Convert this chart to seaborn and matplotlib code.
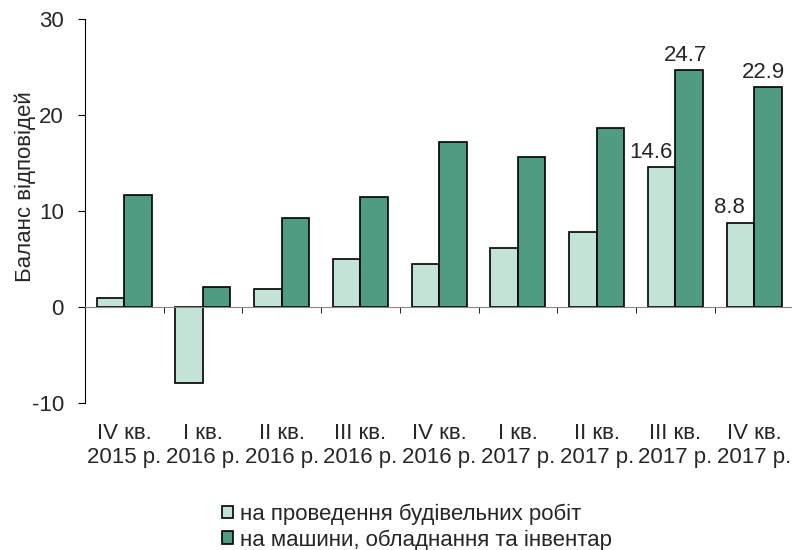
import pandas as pd
import matplotlib.pyplot as plt
import seaborn as sns

# Data
quarters = ["IV кв.\n2015 р.", "I кв.\n2016 р.", "II кв.\n2016 р.", "III кв.\n2016 р.",
            "IV кв.\n2016 р.", "I кв.\n2017 р.", "II кв.\n2017 р.", "III кв.\n2017 р.",
            "IV кв.\n2017 р."]
construction = [1.0, -7.9, 1.9, 5.0, 4.5, 6.2, 7.8, 14.6, 8.8]
machinery = [11.7, 2.1, 9.3, 11.5, 17.2, 15.6, 18.6, 24.7, 22.9]
series_names = ["на проведення будівельних робіт", "на машини, обладнання та інвентар"]
colors = ["#c2e3d6", "#4f9c82"]
annotated = [7, 8]  # quarters that carry value labels

df = pd.DataFrame({
    "quarter": quarters * 2,
    "series": [series_names[0]] * len(quarters) + [series_names[1]] * len(quarters),
    "value": construction + machinery,
})

sns.set_style("ticks")
plt.rcParams["font.family"] = ["Liberation Sans", "DejaVu Sans"]
plt.rcParams["font.size"] = 16
plt.rcParams["axes.unicode_minus"] = False

fig = plt.figure(figsize=(7.92, 5.5), dpi=100)
ax = fig.add_axes([0.107, 0.267, 0.895, 0.6985])

sns.barplot(data=df, x="quarter", y="value", hue="series", palette=colors,
            saturation=1, width=0.7, edgecolor="black", linewidth=1.2, ax=ax)

# value labels on the last two quarters (sit slightly left of bar centre)
for cont, vals, dx in zip(ax.containers, [construction, machinery], [-8, -3]):
    for i, (patch, v) in enumerate(zip(cont.patches, vals)):
        if i in annotated:
            ax.annotate(f"{v:.1f}", (patch.get_x() + patch.get_width() / 2, patch.get_height()),
                        xytext=(dx, 3), textcoords="offset points",
                        ha="center", va="bottom", fontsize=16)

ax.set_xlim(-0.5, 8.5)
ax.set_ylim(-10, 30)
ax.set_yticks([-10, 0, 10, 20, 30])
ax.set_xticks(range(len(quarters)))
ax.set_xticklabels(quarters, linespacing=1.0)
ax.set_xticks([i + 0.5 for i in range(len(quarters) - 1)], minor=True)

ax.spines["top"].set_visible(False)
ax.spines["right"].set_visible(False)
ax.spines["bottom"].set_position(("data", 0))
ax.spines["bottom"].set_color("#888888")
ax.spines["left"].set_color("black")

ax.tick_params(axis="x", which="major", length=0, pad=83.5, labelsize=16)
ax.tick_params(axis="x", which="minor", length=4.5, color="black", direction="out")
ax.tick_params(axis="y", length=5, pad=10, color="black", labelsize=16)

ax.set_xlabel("")
ax.set_ylabel("Баланс відповідей", fontsize=16)
ax.yaxis.set_label_coords(-0.069, 0.5625)

handles, labels = ax.get_legend_handles_labels()
ax.get_legend().remove()
fig.legend(handles, labels, loc="center", bbox_to_anchor=(417 / 792, 1 - 527 / 550),
           frameon=False, handlelength=0.5, handleheight=0.5, handletextpad=0.3,
           labelspacing=0.2, borderpad=0, fontsize=16)

plt.savefig("out.png", dpi=100)
